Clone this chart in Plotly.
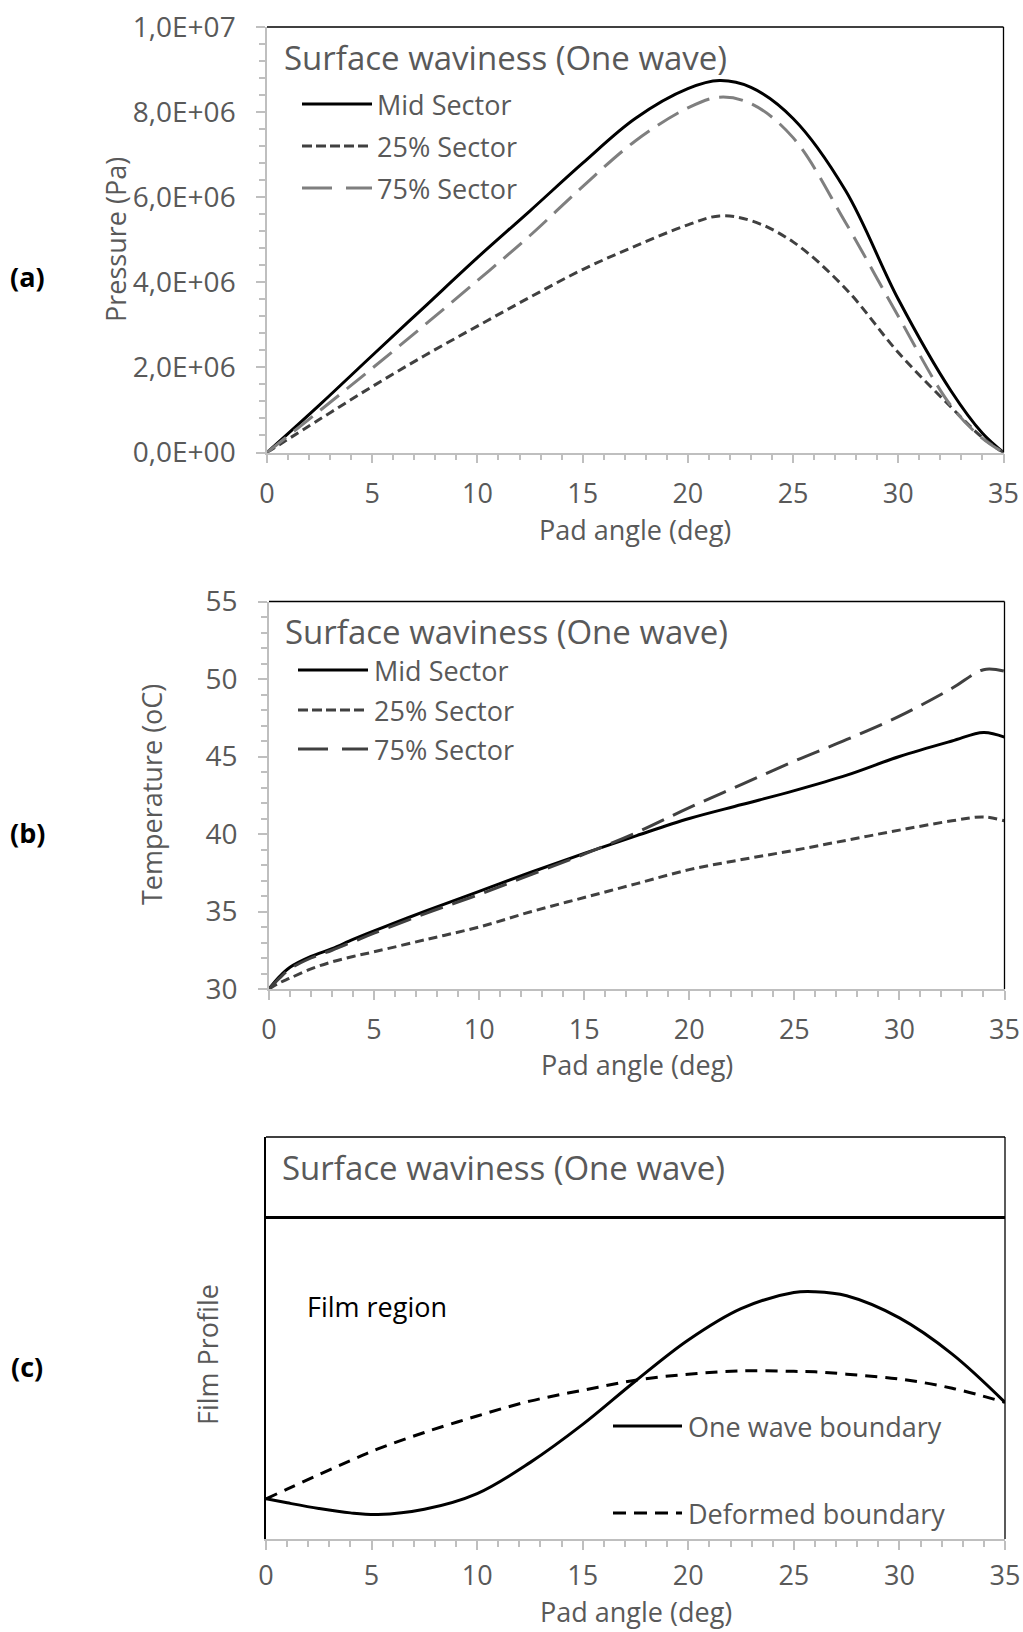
import plotly.graph_objects as go

W, H = 1023, 1632

# ---------------- data ----------------
# (a) pressure vs pad angle
angle_a = [0, 2.5, 5, 7.5, 10, 12.5, 15, 17.5, 20, 21.5, 23, 25, 27.5, 30, 32.5, 34, 35]
p_mid = [0, 1.12e6, 2.28e6, 3.43e6, 4.58e6, 5.68e6, 6.8e6, 7.85e6, 8.55e6, 8.74e6, 8.58e6,
         7.85e6, 6.15e6, 3.6e6, 1.45e6, 0.45e6, 0]
p_25 = [0, 0.78e6, 1.55e6, 2.28e6, 2.97e6, 3.65e6, 4.3e6, 4.85e6, 5.35e6, 5.56e6, 5.45e6,
        4.95e6, 3.85e6, 2.35e6, 1.07e6, 0.35e6, 0]
p_75 = [0, 0.98e6, 1.98e6, 3.0e6, 4.04e6, 5.1e6, 6.25e6, 7.32e6, 8.1e6, 8.35e6, 8.2e6,
        7.4e6, 5.4e6, 3.2e6, 1.1e6, 0.33e6, 0]
p_tickvals = [0, 2e6, 4e6, 6e6, 8e6, 1e7]
p_ticktext = ["0,0E+00", "2,0E+06", "4,0E+06", "6,0E+06", "8,0E+06", "1,0E+07"]

# (b) temperature vs pad angle
angle_b = [0, 0.5, 1, 2, 3, 4, 5, 7.5, 10, 12.5, 15, 17.5, 20, 22.5, 25, 27.5, 30, 32.5, 34, 35]
t_mid = [30.0, 30.8, 31.4, 32.1, 32.6, 33.2, 33.75, 35.05, 36.3, 37.55, 38.75, 39.9, 41.0,
         41.9, 42.8, 43.8, 45.0, 46.0, 46.55, 46.25]
t_25 = [30.0, 30.4, 30.7, 31.3, 31.75, 32.1, 32.4, 33.2, 34.0, 35.0, 35.9, 36.8, 37.7,
        38.35, 38.95, 39.6, 40.25, 40.85, 41.1, 40.85]
t_75 = [30.0, 30.7, 31.3, 32.0, 32.5, 33.05, 33.6, 34.9, 36.1, 37.4, 38.7, 40.1, 41.7,
        43.2, 44.7, 46.1, 47.6, 49.4, 50.6, 50.5]

# (c) film profile (arbitrary units)
angle_c = [0, 1, 2.5, 4, 5.3, 7.5, 10, 12.5, 15, 17.5, 20, 22.5, 25, 26, 27.5, 30, 32.5, 35]
one_wave = [10.0, 9.0, 7.6, 6.5, 6.1, 7.4, 11.3, 19.0, 28.5, 39.3, 49.5, 57.3, 61.3, 61.5,
            60.5, 55.0, 46.0, 34.0]
deformed = [10.0, 12.4, 16.0, 19.5, 22.4, 26.5, 30.6, 34.3, 37.0, 39.5, 41.0, 41.8, 41.7,
            41.6, 41.0, 39.8, 37.5, 34.0]
top_angle = [0, 35]
top_boundary = [80, 80]

x_tickvals = [0, 5, 10, 15, 20, 25, 30, 35]

# ---------------- styling ----------------
FONT = "Open Sans"
TXT = "#595959"
AXG = "#bfbfbf"
DK = "#404040"
MG = "#7f7f7f"


def px(x):
    return x / W


def py(y):
    return 1 - y / H


fig = go.Figure()

# panel (a)
fig.add_trace(go.Scatter(x=angle_a, y=p_mid, mode="lines", line=dict(color="black", width=3, shape="spline"),
                         xaxis="x", yaxis="y", name="Mid Sector"))
fig.add_trace(go.Scatter(x=angle_a, y=p_25, mode="lines", line=dict(color=DK, width=3, dash="9px,5px", shape="spline"),
                         xaxis="x", yaxis="y", name="25% Sector"))
fig.add_trace(go.Scatter(x=angle_a, y=p_75, mode="lines", line=dict(color=MG, width=3, dash="24px,10px", shape="spline"),
                         xaxis="x", yaxis="y", name="75% Sector"))
# panel (b)
fig.add_trace(go.Scatter(x=angle_b, y=t_mid, mode="lines", line=dict(color="black", width=3, shape="spline"),
                         xaxis="x2", yaxis="y2", name="Mid Sector"))
fig.add_trace(go.Scatter(x=angle_b, y=t_25, mode="lines", line=dict(color=DK, width=3, dash="9px,5px", shape="spline"),
                         xaxis="x2", yaxis="y2", name="25% Sector"))
fig.add_trace(go.Scatter(x=angle_b, y=t_75, mode="lines", line=dict(color=DK, width=3, dash="24px,10px", shape="spline"),
                         xaxis="x2", yaxis="y2", name="75% Sector"))
# panel (c)
fig.add_trace(go.Scatter(x=top_angle, y=top_boundary, mode="lines", line=dict(color="black", width=3),
                         xaxis="x3", yaxis="y3", name="Top"))
fig.add_trace(go.Scatter(x=angle_c, y=one_wave, mode="lines", line=dict(color="black", width=3, shape="spline"),
                         xaxis="x3", yaxis="y3", name="One wave boundary"))
fig.add_trace(go.Scatter(x=angle_c, y=deformed, mode="lines", line=dict(color="black", width=3, dash="12px,8px", shape="spline"),
                         xaxis="x3", yaxis="y3", name="Deformed boundary"))


def xaxis(domain, anchor, standoff=7):
    return dict(domain=domain, anchor=anchor, range=[0, 35], tickvals=x_tickvals, automargin=False,
                showline=True, linecolor=AXG, linewidth=1.5, ticks="outside", ticklen=9,
                tickwidth=1.5, tickcolor=AXG,
                minor=dict(dtick=1, tick0=0, ticks="outside", ticklen=6, tickwidth=1.5, tickcolor=AXG),
                showgrid=False, zeroline=False, tickfont=dict(family=FONT, size=27, color=TXT),
                ticklabelstandoff=standoff)


def yaxis(domain, anchor, **kw):
    d = dict(domain=domain, anchor=anchor, automargin=False,
             showline=True, linecolor=AXG, linewidth=1.5, ticks="outside", ticklen=9, tickwidth=1.5,
             tickcolor=AXG, showgrid=False, zeroline=False, tickfont=dict(family=FONT, size=28, color=TXT),
             ticklabelstandoff=15)
    d.update(kw)
    return d


dom_a = [1 - 452.5 / H, 1 - 27 / H]
dom_b = [1 - 989 / H, 1 - 601.5 / H]
dom_c = [1 - 1539 / H, 1 - 1137 / H]

fig.update_layout(
    width=W, height=H, margin=dict(l=0, r=0, t=0, b=0, autoexpand=False),
    paper_bgcolor="white", plot_bgcolor="white", showlegend=False,
    font=dict(family=FONT, color=TXT),
    xaxis=xaxis([267 / W, 1003.5 / W], "y"),
    xaxis2=xaxis([269 / W, 1004.5 / W], "y2"),
    xaxis3=xaxis([266 / W, 1005 / W], "y3", standoff=3),
    yaxis=yaxis(dom_a, "x", range=[0, 1e7], tickvals=p_tickvals, ticktext=p_ticktext,
                minor=dict(dtick=4e5, tick0=0, ticks="outside", ticklen=6, tickwidth=1.5, tickcolor=AXG)),
    yaxis2=yaxis(dom_b, "x2", range=[30, 55], dtick=5, tick0=30,
                 minor=dict(dtick=1, tick0=30, ticks="outside", ticklen=6, tickwidth=1.5, tickcolor=AXG)),
    yaxis3=dict(domain=dom_c, anchor="x3", range=[0, 100], showline=True, linecolor="black", linewidth=1.5,
                ticks="", showticklabels=False, showgrid=False, zeroline=False, automargin=False),
)

shapes = []
# top / right borders (black)
for xr, yr in (("x", "y"), ("x2", "y2"), ("x3", "y3")):
    shapes.append(dict(type="line", xref=xr + " domain", yref=yr + " domain", x0=0, x1=1, y0=1, y1=1,
                       line=dict(color="black", width=1.3)))
    shapes.append(dict(type="line", xref=xr + " domain", yref=yr + " domain", x0=1, x1=1, y0=0, y1=1,
                       line=dict(color="black", width=1.3)))

annotations = []


def text(x, y, s, size=27, color=TXT, xanchor="left", angle=0, yanchor="middle"):
    annotations.append(dict(xref="paper", yref="paper", x=px(x), y=py(y), text=s, showarrow=False,
                            xanchor=xanchor, yanchor=yanchor, textangle=angle, borderpad=0,
                            font=dict(family=FONT, size=size, color=color)))


def legend_item(x0, x1, xt, yc, color, dash, label):
    shapes.append(dict(type="line", xref="paper", yref="paper", x0=px(x0), x1=px(x1), y0=py(yc), y1=py(yc),
                       line=dict(color=color, width=3, dash=dash)))
    text(xt, yc, label)


# axis titles
text(635, 530, "Pad angle (deg)", xanchor="center")
text(637, 1064, "Pad angle (deg)", xanchor="center")
text(636, 1631, "Pad angle (deg)", xanchor="center", yanchor="bottom")
text(115, 240, "Pressure (Pa)", xanchor="center", angle=-90)
text(152, 795, "Temperature (oC)", xanchor="center", angle=-90)
text(207, 1355, "Film Profile", xanchor="center", angle=-90)

# panel (a) legend
text(283, 58, "Surface waviness (One wave)", size=33)
legend_item(302, 372, 376, 104, "black", "solid", "Mid Sector")
legend_item(302, 372, 376, 146, DK, "10px,4px", "25% Sector")
legend_item(302, 372, 376, 188, MG, "30px,14px", "75% Sector")
# panel (b) legend
text(284, 631, "Surface waviness (One wave)", size=33)
legend_item(298, 368, 373, 670, "black", "solid", "Mid Sector")
legend_item(298, 368, 373, 710, DK, "10px,4px", "25% Sector")
legend_item(298, 368, 373, 749, DK, "30px,14px", "75% Sector")
# panel (c)
text(281, 1167, "Surface waviness (One wave)", size=33)
legend_item(613, 682, 687, 1426, "black", "solid", "One wave boundary")
legend_item(613, 682, 687, 1513, "black", "13px,8px", "Deformed boundary")
text(306, 1306, "Film region", color="black")

# panel labels
for lab, yc in (("(a)", 276), ("(b)", 832), ("(c)", 1366)):
    text(27, yc, "<b>" + lab + "</b>", color="black", xanchor="center")

fig.update_layout(shapes=shapes, annotations=annotations)
fig.write_html("out.html")
